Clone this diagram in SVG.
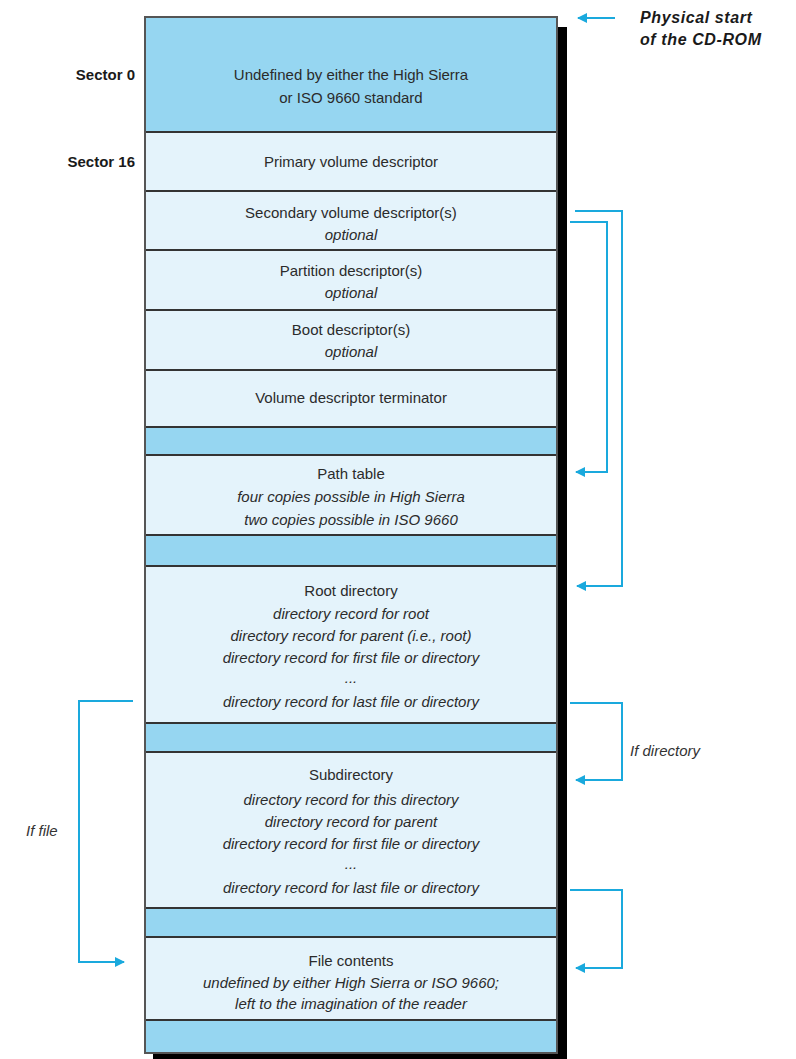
<svg xmlns="http://www.w3.org/2000/svg" width="796" height="1059" viewBox="0 0 796 1059">
<style>
.dark{fill:#96d6f1;}
.light{fill:#e4f3fb;}
.div{stroke:#333;stroke-width:2;}
.t{font-family:"Liberation Sans",Arial,sans-serif;font-size:15px;fill:#2b2b2b;text-anchor:middle;}
.i{font-style:italic;}
.lbl{font-family:"Liberation Sans",Arial,sans-serif;font-size:15px;font-weight:bold;fill:#1a1a1a;text-anchor:end;}
.note{font-family:"Liberation Sans",Arial,sans-serif;font-size:16px;font-weight:bold;font-style:italic;fill:#1a1a1a;letter-spacing:0.6px;}
.side{font-family:"Liberation Sans",Arial,sans-serif;font-size:15px;font-style:italic;fill:#333;}
.con{fill:none;stroke:#1aa9dd;stroke-width:2;}
</style>
<defs>
<marker id="ah" viewBox="0 0 10 10" refX="9" refY="5" markerWidth="5" markerHeight="5" orient="auto" markerUnits="strokeWidth">
<path d="M0,0 L10,5 L0,10 z" fill="#1aa9dd"/>
</marker>
</defs>
<rect width="796" height="1059" fill="#fff"/>
<!-- shadow -->
<rect x="557" y="27" width="10" height="1032" fill="#000"/>
<rect x="153" y="1053" width="414" height="6" fill="#000"/>
<g id="sector0">
<rect class="dark" x="145" y="17" width="412" height="115"/>
<text class="t" x="351" y="80">Undefined by either the High Sierra</text>
<text class="t" x="351" y="103">or ISO 9660 standard</text>
</g>
<g id="primary">
<rect class="light" x="145" y="132" width="412" height="59"/>
<text class="t" x="351" y="167">Primary volume descriptor</text>
</g>
<g id="secondary">
<rect class="light" x="145" y="191" width="412" height="59"/>
<text class="t" x="351" y="218">Secondary volume descriptor(s)</text>
<text class="t i" x="351" y="240">optional</text>
</g>
<g id="partition">
<rect class="light" x="145" y="250" width="412" height="60"/>
<text class="t" x="351" y="276">Partition descriptor(s)</text>
<text class="t i" x="351" y="298">optional</text>
</g>
<g id="boot">
<rect class="light" x="145" y="310" width="412" height="60"/>
<text class="t" x="351" y="335">Boot descriptor(s)</text>
<text class="t i" x="351" y="357">optional</text>
</g>
<g id="terminator">
<rect class="light" x="145" y="370" width="412" height="57"/>
<text class="t" x="351" y="403">Volume descriptor terminator</text>
</g>
<g id="gap1"><rect class="dark" x="145" y="427" width="412" height="28"/></g>
<g id="pathtable">
<rect class="light" x="145" y="455" width="412" height="80"/>
<text class="t" x="351" y="479">Path table</text>
<text class="t i" x="351" y="502">four copies possible in High Sierra</text>
<text class="t i" x="351" y="525">two copies possible in ISO 9660</text>
</g>
<g id="gap2"><rect class="dark" x="145" y="535" width="412" height="31"/></g>
<g id="root">
<rect class="light" x="145" y="566" width="412" height="157"/>
<text class="t" x="351" y="596">Root directory</text>
<text class="t i" x="351" y="619">directory record for root</text>
<text class="t i" x="351" y="641">directory record for parent (i.e., root)</text>
<text class="t i" x="351" y="663">directory record for first file or directory</text>
<text class="t i" x="351" y="683">...</text>
<text class="t i" x="351" y="707">directory record for last file or directory</text>
</g>
<g id="gap3"><rect class="dark" x="145" y="723" width="412" height="29"/></g>
<g id="subdir">
<rect class="light" x="145" y="752" width="412" height="156"/>
<text class="t" x="351" y="780">Subdirectory</text>
<text class="t i" x="351" y="805">directory record for this directory</text>
<text class="t i" x="351" y="827">directory record for parent</text>
<text class="t i" x="351" y="849">directory record for first file or directory</text>
<text class="t i" x="351" y="869">...</text>
<text class="t i" x="351" y="893">directory record for last file or directory</text>
</g>
<g id="gap4"><rect class="dark" x="145" y="908" width="412" height="29"/></g>
<g id="filecontents">
<rect class="light" x="145" y="937" width="412" height="83"/>
<text class="t" x="351" y="966">File contents</text>
<text class="t i" x="351" y="988">undefined by either High Sierra or ISO 9660;</text>
<text class="t i" x="351" y="1009">left to the imagination of the reader</text>
</g>
<g id="gap5"><rect class="dark" x="145" y="1020" width="412" height="33"/></g>
<g id="dividers">
<line class="div" x1="145" y1="132" x2="557" y2="132"/>
<line class="div" x1="145" y1="191" x2="557" y2="191"/>
<line class="div" x1="145" y1="250" x2="557" y2="250"/>
<line class="div" x1="145" y1="310" x2="557" y2="310"/>
<line class="div" x1="145" y1="370" x2="557" y2="370"/>
<line class="div" x1="145" y1="427" x2="557" y2="427"/>
<line class="div" x1="145" y1="455" x2="557" y2="455"/>
<line class="div" x1="145" y1="535" x2="557" y2="535"/>
<line class="div" x1="145" y1="566" x2="557" y2="566"/>
<line class="div" x1="145" y1="723" x2="557" y2="723"/>
<line class="div" x1="145" y1="752" x2="557" y2="752"/>
<line class="div" x1="145" y1="908" x2="557" y2="908"/>
<line class="div" x1="145" y1="937" x2="557" y2="937"/>
<line class="div" x1="145" y1="1020" x2="557" y2="1020"/>
<rect x="145" y="17" width="412" height="1036" fill="none" stroke="#555" stroke-width="2"/>
</g>
<g id="labels">
<text class="lbl" x="135" y="80">Sector 0</text>
<text class="lbl" x="135" y="167">Sector 16</text>
<text class="note" x="640" y="23">Physical start</text>
<text class="note" x="640" y="45">of the CD-ROM</text>
<text class="side" x="630" y="756">If directory</text>
<text class="side" x="26" y="836">If file</text>
</g>
<g id="connectors">
<path class="con" d="M615,18 H578" marker-end="url(#ah)"/>
<path class="con" d="M570,222 H607 V472 H576" marker-end="url(#ah)"/>
<path class="con" d="M575,211 H622 V586 H577" marker-end="url(#ah)"/>
<path class="con" d="M570,703 H622 V780 H576" marker-end="url(#ah)"/>
<path class="con" d="M570,890 H622 V968 H576" marker-end="url(#ah)"/>
<path class="con" d="M133,701 H79 V962 H124" marker-end="url(#ah)"/>
</g>
</svg>
